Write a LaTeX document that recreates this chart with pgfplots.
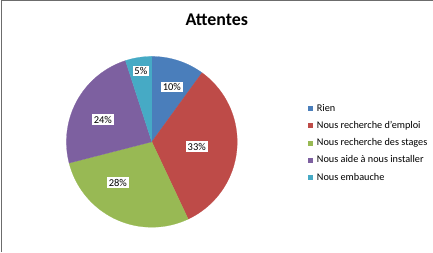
\documentclass[border=0pt]{standalone}
\usepackage{pgfplots}
\pgfplotsset{compat=1.18}
\usepackage{fontspec}
\setmainfont{Carlito}
\definecolor{cRien}{HTML}{4A7EBB}
\definecolor{cEmploi}{HTML}{BE4B48}
\definecolor{cStages}{HTML}{98B954}
\definecolor{cInstaller}{HTML}{7D60A0}
\definecolor{cEmbauche}{HTML}{46AAC5}
% percentages of the five slices
\def\vA{10}\def\vB{33}\def\vC{28}\def\vD{24}\def\vE{5}
\pgfmathsetmacro{\aA}{90}
\pgfmathsetmacro{\aB}{\aA-3.6*\vA}
\pgfmathsetmacro{\aC}{\aB-3.6*\vB}
\pgfmathsetmacro{\aD}{\aC-3.6*\vC}
\pgfmathsetmacro{\aE}{\aD-3.6*\vD}
\pgfmathsetmacro{\aF}{\aE-3.6*\vE}
\def\cx{152}\def\cy{110}\def\R{85.5}
\begin{document}
\begin{tikzpicture}
\begin{axis}[
  x=1bp, y=1bp, xmin=0, xmax=433, ymin=0, ymax=252,
  hide axis, clip=false, scale only axis,
  legend style={at={(axis cs:305,151)}, anchor=north west, draw=none, fill=none,
    font=\fontsize{10.3}{12}\selectfont, row sep=6.4pt,
    nodes={inner sep=1pt, text height=7pt, text depth=2pt}},
  legend cell align=left,
  legend image code/.code={\path[#1, draw=none] (0pt,-2.5pt) rectangle (5pt,2.5pt); \path (8pt,0pt);},
]
\addplot[fill=cRien, draw=cRien, line width=0.2pt, domain=\aB:\aA, samples=40, variable=\t]
  ({\cx+\R*cos(\t)},{\cy+\R*sin(\t)}) -- (axis cs:\cx,\cy) -- cycle;
\addlegendentry{Rien}
\addplot[fill=cEmploi, draw=cEmploi, line width=0.2pt, domain=\aC:\aB, samples=60, variable=\t]
  ({\cx+\R*cos(\t)},{\cy+\R*sin(\t)}) -- (axis cs:\cx,\cy) -- cycle;
\addlegendentry{Nous recherche d'emploi}
\addplot[fill=cStages, draw=cStages, line width=0.2pt, domain=\aD:\aC, samples=60, variable=\t]
  ({\cx+\R*cos(\t)},{\cy+\R*sin(\t)}) -- (axis cs:\cx,\cy) -- cycle;
\addlegendentry{Nous recherche des stages}
\addplot[fill=cInstaller, draw=cInstaller, line width=0.2pt, domain=\aE:\aD, samples=60, variable=\t]
  ({\cx+\R*cos(\t)},{\cy+\R*sin(\t)}) -- (axis cs:\cx,\cy) -- cycle;
\addlegendentry{Nous aide à nous installer}
\addplot[fill=cEmbauche, draw=cEmbauche, line width=0.2pt, domain=\aF:\aE, samples=20, variable=\t]
  ({\cx+\R*cos(\t)},{\cy+\R*sin(\t)}) -- (axis cs:\cx,\cy) -- cycle;
\addlegendentry{Nous embauche}
\begin{scope}[every node/.style={fill=white, inner sep=1.8pt, font=\fontsize{10.5}{12}\selectfont}]
\node at (axis cs:172,165) {\vA\%};
\node at (axis cs:197,105) {\vB\%};
\node at (axis cs:118,69) {\vC\%};
\node at (axis cs:103,132) {\vD\%};
\node at (axis cs:141,181) {\vE\%};
\end{scope}
\node at (axis cs:217,232) {\fontsize{18}{20}\selectfont\bfseries Attentes};
\draw[gray!85!black, line width=1bp] (axis cs:1.5,0) -- (axis cs:1.5,251.5) -- (axis cs:433,251.5);
\path (axis cs:0,0) rectangle (axis cs:433,252);
\end{axis}
\end{tikzpicture}
\end{document}
